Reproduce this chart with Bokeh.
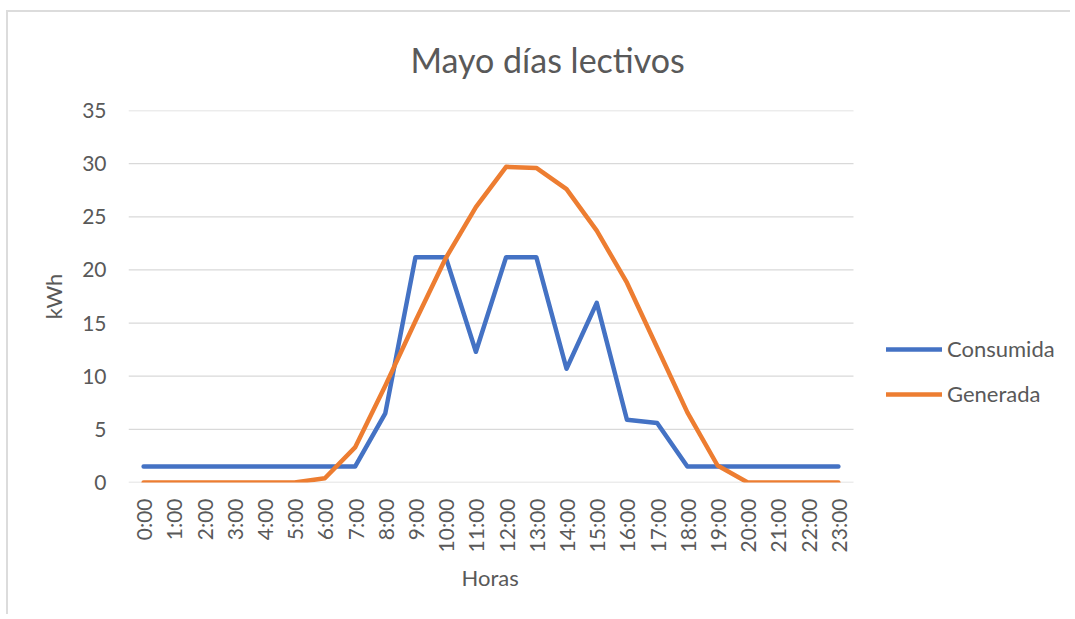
from bokeh.plotting import figure
from bokeh.models import FixedTicker, Legend, LegendItem, Title, ColumnDataSource
from bokeh.embed import file_html
from bokeh.resources import INLINE
import math

hours = ["0:00", "1:00", "2:00", "3:00", "4:00", "5:00", "6:00", "7:00", "8:00", "9:00",
         "10:00", "11:00", "12:00", "13:00", "14:00", "15:00", "16:00", "17:00", "18:00",
         "19:00", "20:00", "21:00", "22:00", "23:00"]
consumida = [1.5, 1.5, 1.5, 1.5, 1.5, 1.5, 1.5, 1.5, 6.5, 21.2, 21.2, 12.3,
             21.2, 21.2, 10.7, 16.9, 5.9, 5.6, 1.5, 1.5, 1.5, 1.5, 1.5, 1.5]
generada = [0, 0, 0, 0, 0, 0, 0.4, 3.3, 9.1, 15.2, 21.1, 25.9,
            29.7, 29.6, 27.6, 23.7, 18.8, 12.7, 6.6, 1.6, 0, 0, 0, 0]
y_ticks = [0, 5, 10, 15, 20, 25, 30, 35]

TEXT = "#595959"
GRID = "#D9D9D9"
FONT = "Lato"

W, H = 1070, 614
FRAME_L = 128
PX_PER_CAT = (853 - 128) / 24.0
x_end = -0.5 + (W - FRAME_L) / PX_PER_CAT  # frame extends under the legend area

p = figure(width=W, height=H, output_backend="svg", toolbar_location=None,
           x_range=(-0.5, x_end), y_range=(0, 35),
           min_border_left=FRAME_L, min_border_right=0, min_border_top=110, min_border_bottom=132)
p.outline_line_color = None
p.background_fill_color = "white"
p.border_fill_color = None
p.styles = {
    "background": ("linear-gradient(#DCDCDC, #DCDCDC) 6px 10px / 2px calc(100% - 10px) no-repeat, "
                   "linear-gradient(#DCDCDC, #DCDCDC) 6px 10px / calc(100% - 6px) 2px no-repeat, white"),
}

xs = list(range(len(hours)))
n = len(hours)

# horizontal gridlines spanning only the category area
p.segment(x0=[-0.5] * len(y_ticks), x1=[n - 0.5] * len(y_ticks), y0=y_ticks, y1=y_ticks,
          line_color=GRID, line_width=1.3)

src = ColumnDataSource(dict(x=xs, c=consumida, g=generada))
r1 = p.line("x", "c", source=src, line_color="#4472C4", line_width=4.5, line_join="round", line_cap="round")
r2 = p.line("x", "g", source=src, line_color="#ED7D31", line_width=4.5, line_join="round", line_cap="round")

# axes
p.xaxis.ticker = FixedTicker(ticks=xs)
p.xaxis.major_label_overrides = {i: h for i, h in enumerate(hours)}
p.xaxis.major_label_orientation = math.pi / 2
p.yaxis.ticker = FixedTicker(ticks=y_ticks)
for ax in (p.xaxis, p.yaxis):
    ax.axis_line_color = None
    ax.major_tick_line_color = None
    ax.minor_tick_line_color = None
    ax.major_label_text_font = FONT
    ax.major_label_text_font_size = "21px"
    ax.major_label_text_color = TEXT
    ax.axis_label_text_font = FONT
    ax.axis_label_text_font_size = "22px"
    ax.axis_label_text_font_style = "normal"
    ax.axis_label_text_color = TEXT
p.xaxis.major_label_standoff = 10
p.yaxis.major_label_standoff = 16
p.yaxis.axis_label = "kWh"
p.yaxis.axis_label_standoff = 12

p.xgrid.grid_line_color = None
p.ygrid.grid_line_color = None

# title
p.add_layout(Title(text="Mayo días lectivos", align="left", offset=282, standoff=62,
                   text_font=FONT, text_font_size="34px", text_font_style="normal",
                   text_color=TEXT), "above")
# x axis title, centred under the category area
p.add_layout(Title(text="Horas", align="left", offset=333, standoff=12,
                   text_font=FONT, text_font_size="22px", text_font_style="normal",
                   text_color=TEXT), "below")

legend = Legend(items=[LegendItem(label="Consumida", renderers=[r1]),
                       LegendItem(label="Generada", renderers=[r2])],
                location=(886 - FRAME_L, 75), orientation="vertical",
                glyph_width=56, glyph_height=20, spacing=18, padding=0, margin=0,
                label_standoff=5, label_text_font=FONT, label_text_font_size="22px",
                label_text_color=TEXT, border_line_color=None, background_fill_alpha=0)
p.add_layout(legend, "center")

open("out.html", "w").write(file_html(p, INLINE))
